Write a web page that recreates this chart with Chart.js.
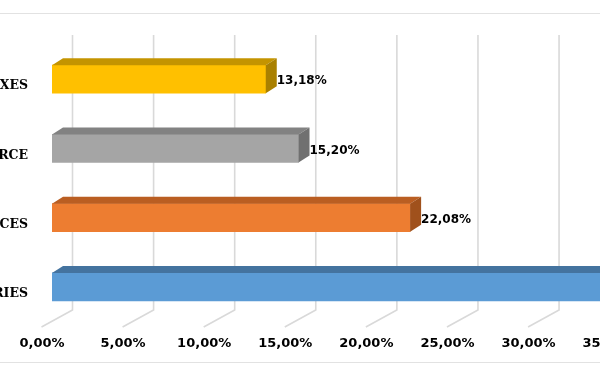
<!DOCTYPE html>
<html>
<head>
<meta charset="utf-8">
<script src="https://cdn.jsdelivr.net/npm/chart.js@4.4.1/dist/chart.umd.min.js"></script>
<style>
    html, body { margin: 0; padding: 0; background: #ffffff; }
    #wrap { position: relative; width: 600px; height: 372px; overflow: hidden; }
    #box { position: absolute; left: -98px; top: 0; width: 1002px; height: 372px; }
</style>
</head>
<body>
<div id="wrap"><div id="box"><canvas id="barChart"></canvas></div></div>
<script>
// Chart data
const categories = ['TAXES', 'COMMERCE', 'SERVICES', 'INDUSTRIES'];
const shares = [13.18, 15.20, 22.08, 49.54];
const valueLabels = ['13,18%', '15,20%', '22,08%', '49,54%'];
const tickLabels = ['0,00%', '5,00%', '10,00%', '15,00%', '20,00%', '25,00%', '30,00%', '35,00%', '40,00%', '45,00%', '50,00%'];

const frontColors = ['#FFC000', '#A5A5A5', '#ED7D31', '#5B9BD5'];
const topColors = ['#C49400', '#828282', '#BA5E22', '#44739F'];
const sideColors = ['#A98000', '#707070', '#A0511C', '#3B6690'];

const DEPTH_X = 11;
const DEPTH_Y = 7;

// Back wall gridlines and floor lines, plus the outer border lines
const backdrop = {
    id: 'backdrop',
    beforeDatasetsDraw: function(chart) {
        const ctx = chart.ctx;
        const area = chart.chartArea;
        const xScale = chart.scales.x;
        ctx.save();
        ctx.strokeStyle = '#e2e2e2';
        ctx.lineWidth = 1;
        ctx.beginPath();
        ctx.moveTo(0, 13.5);
        ctx.lineTo(chart.width, 13.5);
        ctx.moveTo(0, 362.5);
        ctx.lineTo(chart.width, 362.5);
        ctx.stroke();

        ctx.strokeStyle = '#d9d9d9';
        ctx.lineWidth = 1.6;
        xScale.ticks.forEach(t => {
            const px = xScale.getPixelForValue(t.value);
            ctx.beginPath();
            ctx.moveTo(px + 20.5, area.top - 9.5);
            ctx.lineTo(px + 20.5, area.bottom - 11.5);
            ctx.lineTo(px - 10.5, area.bottom + 5.5);
            ctx.stroke();
        });
        ctx.restore();
    }
};

// Top and side faces of each bar, and the value labels
const bars3d = {
    id: 'bars3d',
    afterDatasetsDraw: function(chart) {
        const ctx = chart.ctx;
        const meta = chart.getDatasetMeta(0);
        ctx.save();
        meta.data.forEach((bar, i) => {
            const top = bar.y - bar.height / 2;
            const bottom = bar.y + bar.height / 2;
            ctx.fillStyle = topColors[i];
            ctx.beginPath();
            ctx.moveTo(bar.base, top);
            ctx.lineTo(bar.x, top);
            ctx.lineTo(bar.x + DEPTH_X, top - DEPTH_Y);
            ctx.lineTo(bar.base + DEPTH_X, top - DEPTH_Y);
            ctx.closePath();
            ctx.fill();

            ctx.fillStyle = sideColors[i];
            ctx.beginPath();
            ctx.moveTo(bar.x, top);
            ctx.lineTo(bar.x + DEPTH_X, top - DEPTH_Y);
            ctx.lineTo(bar.x + DEPTH_X, bottom - DEPTH_Y);
            ctx.lineTo(bar.x, bottom);
            ctx.closePath();
            ctx.fill();

            ctx.fillStyle = '#000000';
            ctx.font = 'bold 12px "DejaVu Sans"';
            ctx.textAlign = 'left';
            ctx.textBaseline = 'middle';
            ctx.fillText(valueLabels[i], bar.x + DEPTH_X, bar.y + 2);
        });
        ctx.restore();
    }
};

const ctx = document.getElementById('barChart').getContext('2d');
new Chart(ctx, {
    type: 'bar',
    data: {
        labels: categories,
        datasets: [{
            data: shares,
            backgroundColor: frontColors,
            borderWidth: 0,
            barThickness: 28
        }]
    },
    options: {
        indexAxis: 'y',
        responsive: true,
        maintainAspectRatio: false,
        animation: false,
        layout: {
            padding: { top: 44.5, right: 20, bottom: 0, left: 0 }
        },
        scales: {
            x: {
                min: 0,
                max: 50,
                grid: { display: false, drawTicks: false },
                border: { display: false },
                afterFit: function(scale) { scale.height = 50.5; },
                ticks: {
                    stepSize: 5,
                    padding: 14,
                    labelOffset: -10,
                    color: '#000000',
                    font: { family: 'DejaVu Sans', size: 13, weight: 'bold' },
                    callback: function(value, index) { return tickLabels[index]; }
                }
            },
            y: {
                grid: { display: false, drawTicks: false },
                border: { display: false },
                afterFit: function(scale) { scale.width = 150; },
                ticks: {
                    padding: 24,
                    labelOffset: 7,
                    color: '#000000',
                    font: { family: 'DejaVu Serif', size: 12.5, weight: 'bold' }
                }
            }
        },
        plugins: {
            legend: { display: false },
            tooltip: { enabled: false }
        }
    },
    plugins: [backdrop, bars3d]
});
</script>
</body>
</html>
